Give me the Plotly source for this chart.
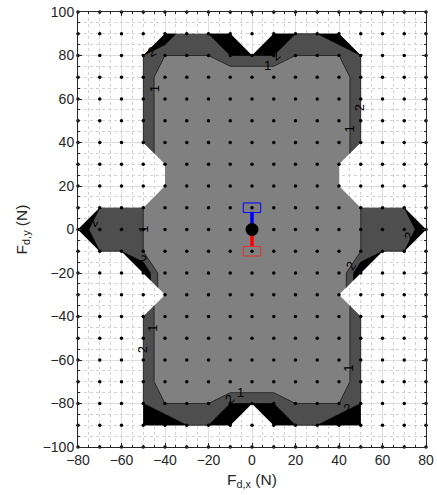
import plotly.graph_objects as go

# ---------------- data ----------------
x_grid = [-80, -70, -60, -50, -40, -30, -20, -10, 0, 10, 20, 30, 40, 50, 60, 70, 80]
y_grid = [100, 90, 80, 70, 60, 50, 40, 30, 20, 10, 0, -10, -20, -30, -40, -50, -60, -70, -80, -90, -100]
N = None  # outside feasible region
z_rows = [
    [N, N, N, N, N, N, N, N, N, N, N, N, N, N, N, N, N],   # 100
    [N, N, N, N, 3, 1, 2, 3, N, 3, 2, 2, 3, N, N, N, N],   # 90
    [N, N, N, 2, 1, 1, 1, 2, 2, 2, 1, 1, 1, 2, N, N, N],   # 80
    [N, N, N, 2, 0, 0, 0, 0, 0, 0, 0, 0, 0, 2, N, N, N],   # 70
    [N, N, N, 2, 0, 0, 0, 0, 0, 0, 0, 0, 0, 2, N, N, N],   # 60
    [N, N, N, 2, 0, 0, 0, 0, 0, 0, 0, 0, 0, 2, N, N, N],   # 50
    [N, N, N, 2, 0, 0, 0, 0, 0, 0, 0, 0, 0, 2, N, N, N],   # 40
    [N, N, N, N, 0, 0, 0, 0, 0, 0, 0, 0, 0, N, N, N, N],   # 30
    [N, N, N, N, 0, 0, 0, 0, 0, 0, 0, 0, 0, N, N, N, N],   # 20
    [N, 2, 1, 1, 0, 0, 0, 0, 0, 0, 0, 0, 0, 1, 1, 2, N],   # 10
    [3, 1, 1, 1, 0, 0, 0, 0, 0, 0, 0, 0, 0, 1, 1, 1, 3],   # 0
    [N, 2, 2, 1, 0, 0, 0, 0, 0, 0, 0, 0, 0, 1, 2, 2, N],   # -10
    [N, N, N, 3, 0, 0, 0, 0, 0, 0, 0, 0, 0, 3, N, N, N],   # -20
    [N, N, N, N, 0, 0, 0, 0, 0, 0, 0, 0, 0, N, N, N, N],   # -30
    [N, N, N, 2, 0, 0, 0, 0, 0, 0, 0, 0, 0, 2, N, N, N],   # -40
    [N, N, N, 2, 0, 0, 0, 0, 0, 0, 0, 0, 0, 2, N, N, N],   # -50
    [N, N, N, 2, 0, 0, 0, 0, 0, 0, 0, 0, 0, 2, N, N, N],   # -60
    [N, N, N, 2, 0, 0, 0, 0, 0, 0, 0, 0, 0, 2, N, N, N],   # -70
    [N, N, N, 2, 1, 1, 1, 2, 2, 2, 1, 1, 1, 2, N, N, N],   # -80
    [N, N, N, 3, 3, 2, 2, 3, N, 3, 2, 2, 3, 3, N, N, N],   # -90
    [N, N, N, N, N, N, N, N, N, N, N, N, N, N, N, N, N],   # -100
]
fill_levels = [0, 1, 2]
line_levels = [1, 2]

label_text = ["2", "1", "1", "2", "2", "1", "1", "2", "2", "2", "2", "1", "2", "1", "2", "1", "2"]
label_x = [-46, -45, 7, 11, 49.5, 44.6, -50, -73, 72, -50.5, 45.5, -45.8, -50.5, -5.5, -10.5, 44.6, 43.8]
label_y = [82, 64.5, 75.5, 80, 56, 46, 0, 3, -3, -14, -16.5, -45.5, -55.5, -75, -78, -64, -82.3]
label_angle = [-27, -90, 0, -45, -90, -90, -90, -63, -63, 27, -55, -90, -90, 0, -45, -90, -27]

probe_x = [0]
probe_y = [0]
force_up = 10
force_down = -10

# ---------------- geometry helpers ----------------
cells = []
for i in range(len(y_grid) - 1):
    for j in range(len(x_grid) - 1):
        pts = [
            (x_grid[j], y_grid[i + 1], z_rows[i + 1][j]),
            (x_grid[j + 1], y_grid[i + 1], z_rows[i + 1][j + 1]),
            (x_grid[j + 1], y_grid[i], z_rows[i][j + 1]),
            (x_grid[j], y_grid[i], z_rows[i][j]),
        ]
        valid = [p for p in pts if p[2] is not None]
        if len(valid) >= 3:
            cells.append(valid)


def clip(poly, L):
    out = []
    n = len(poly)
    for k in range(n):
        xa, ya, za = poly[k]
        xb, yb, zb = poly[(k + 1) % n]
        ain, bin_ = za >= L, zb >= L
        if ain:
            out.append((xa, ya))
        if ain != bin_:
            t = (L - za) / (zb - za)
            out.append((xa + t * (xb - xa), ya + t * (yb - ya)))
    return out


def crossings(poly, L):
    out = []
    n = len(poly)
    for k in range(n):
        xa, ya, za = poly[k]
        xb, yb, zb = poly[(k + 1) % n]
        if (za >= L) != (zb >= L):
            t = (L - za) / (zb - za)
            out.append((xa + t * (xb - xa), ya + t * (yb - ya)))
    return out


fill_colors = ["#808080", "#4e4e4e", "#000000"]

fig = go.Figure()

for L, col in zip(fill_levels, fill_colors):
    xs, ys = [], []
    for c in cells:
        p = clip(c, L)
        if len(p) >= 3:
            xs += [q[0] for q in p] + [p[0][0], None]
            ys += [q[1] for q in p] + [p[0][1], None]
    fig.add_trace(go.Scatter(x=xs, y=ys, mode="lines", fill="toself", fillcolor=col,
                             line=dict(width=0, color=col), hoverinfo="skip", showlegend=False))

lx, ly = [], []
for L in line_levels:
    for c in cells:
        p = crossings(c, L)
        if len(p) >= 2:
            for k in range(0, len(p) - 1, 2):
                lx += [p[k][0], p[k + 1][0], None]
                ly += [p[k][1], p[k + 1][1], None]
fig.add_trace(go.Scatter(x=lx, y=ly, mode="lines", line=dict(color="black", width=0.6),
                         hoverinfo="skip", showlegend=False))

# grid points
gx = [x for y in y_grid for x in x_grid]
gy = [y for y in y_grid for x in x_grid]
fig.add_trace(go.Scatter(x=gx, y=gy, mode="markers", marker=dict(color="black", size=3.5),
                         cliponaxis=False, hoverinfo="skip", showlegend=False))

# force vectors
box_hw, box_hh = 4, 2.2
fig.add_trace(go.Scatter(x=[probe_x[0], probe_x[0]], y=[probe_y[0], force_up - box_hh], mode="lines",
                         line=dict(color="blue", width=3.5), showlegend=False))
fig.add_trace(go.Scatter(x=[probe_x[0], probe_x[0]], y=[probe_y[0], force_down + box_hh], mode="lines",
                         line=dict(color="red", width=3.5), showlegend=False))
fig.add_shape(type="rect", x0=probe_x[0] - box_hw, x1=probe_x[0] + box_hw,
              y0=force_up - box_hh, y1=force_up + box_hh, line=dict(color="blue", width=1))
fig.add_shape(type="rect", x0=probe_x[0] - box_hw, x1=probe_x[0] + box_hw,
              y0=force_down - box_hh, y1=force_down + box_hh, line=dict(color="#e03030", width=1))
fig.add_trace(go.Scatter(x=probe_x, y=probe_y, mode="markers", marker=dict(color="black", size=13),
                         showlegend=False))

for t, x, y, a in zip(label_text, label_x, label_y, label_angle):
    fig.add_annotation(x=x, y=y, text=t, textangle=a, showarrow=False,
                       font=dict(size=13, color="black"))

font_fam = "Liberation Sans, Arial, sans-serif"
axis_common = dict(
    showline=True, linecolor="#262626", linewidth=1, mirror="ticks",
    ticks="inside", ticklen=4, tickcolor="#262626", automargin=False,
    ticklabeloverflow="allow",
    showgrid=True, gridcolor="#dedede", gridwidth=1, zeroline=False,
    tickfont=dict(family=font_fam, size=14, color="#262626"),
    minor=dict(dtick=5, showgrid=True, gridcolor="#d2d2d2", griddash="dot", gridwidth=0.6,
               ticks="inside", ticklen=2, tickcolor="#262626"),
)
fig.update_layout(
    width=437, height=495,
    margin=dict(l=78, r=11, t=12, b=48),
    paper_bgcolor="white", plot_bgcolor="white",
    font=dict(family=font_fam, color="#262626"),
    xaxis=dict(range=[-80, 80], dtick=20, title=dict(text="F<sub>d,x</sub> (N)", font=dict(size=15.5), standoff=7),
               **axis_common),
    yaxis=dict(range=[-100, 100], dtick=20, title=dict(text="F<sub>d,y</sub> (N)", font=dict(size=15.5), standoff=11),
               **axis_common),
    showlegend=False,
)

fig.write_html("out.html", config={"displayModeBar": False},
               post_script="document.body.style.margin='0';")
